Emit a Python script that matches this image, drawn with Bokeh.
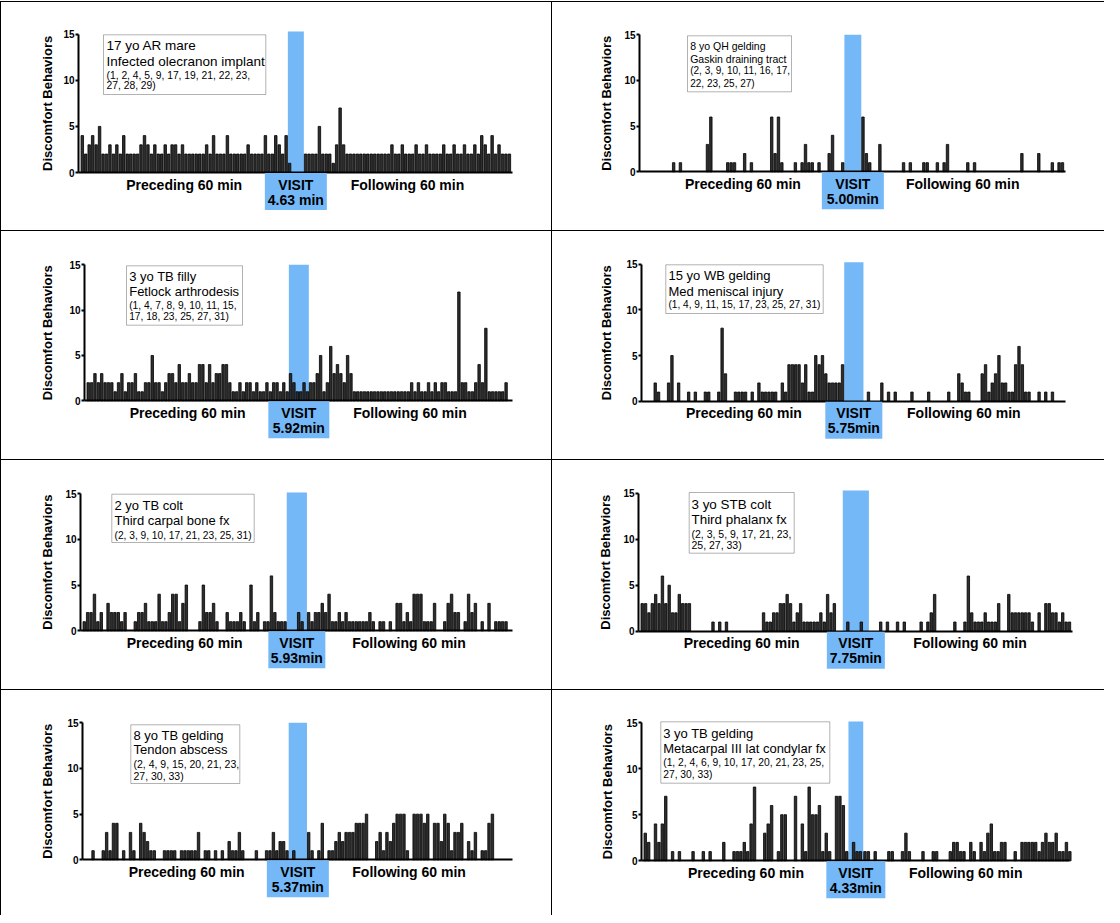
import math
from bokeh.plotting import figure
from bokeh.models import Range1d, FixedTicker, BoxAnnotation, Label, Div
from bokeh.layouts import column, row
from bokeh.embed import file_html
from bokeh.resources import INLINE

# ---------------- DATA ----------------
visit_min = [4.63, 5.00, 5.92, 5.75, 5.93, 7.75, 5.37, 4.33]
visit_txt = ["4.63 min", "5.00min", "5.92min", "5.75min", "5.93min", "7.75min", "5.37min", "4.33min"]

head1 = ["17 yo AR mare", "8 yo QH gelding", "3 yo TB filly", "15 yo WB gelding",
         "2 yo TB colt", "3 yo STB colt", "8 yo TB gelding", "3 yo TB gelding"]
head2 = ["Infected olecranon implant", "Gaskin draining tract", "Fetlock arthrodesis",
         "Med meniscal injury", "Third carpal bone fx", "Third phalanx fx",
         "Tendon abscess", "Metacarpal III lat condylar fx"]
refs = [["(1, 2, 4, 5, 9, 17, 19, 21, 22, 23,", "27, 28, 29)"],
        ["(2, 3, 9, 10, 11, 16, 17,", "22, 23, 25, 27)"],
        ["(1, 4, 7, 8, 9, 10, 11, 15,", "17, 18, 23, 25, 27, 31)"],
        ["(1, 4, 9, 11, 15, 17, 23, 25, 27, 31)"],
        ["(2, 3, 9, 10, 17, 21, 23, 25, 31)"],
        ["(2, 3, 5, 9, 17, 21, 23,", "25, 27, 33)"],
        ["(2, 4, 9, 15, 20, 21, 23,", "27, 30, 33)"],
        ["(1, 2, 4, 6, 9, 10, 17, 20, 21, 23, 25,", "27, 30, 33)"]]
y_title = "Discomfort Behaviors"
y_ticks = [0, 5, 10, 15]

pre_1 = [4,2,3,4,3,5,2,2,3,2, 3,2,4,2,2,2,2,3,4,3, 2,3,2,2,3,2,3,3,2,3,
         2,2,2,2,2,2,3,2,4,2, 2,2,4,2,2,2,2,2,3,2, 2,2,2,4,2,2,4,3,2,4]
dur_1 = [1]
post_1 = [2,2,2,2,5,2,2,2,1,3, 7,3,2,2,2,2,2,2,2,2, 2,2,2,2,2,3,2,2,3,2,
          2,2,3,2,2,3,2,2,2,2, 3,2,2,3,2,2,3,2,2,3, 2,4,3,2,4,2,3,2,2,2]

pre_2 = [0,0,0,0,0,0,0,0,0,1, 0,1,0,0,0,0,0,0,0,3, 6,0,0,0,0,1,1,1,0,0,
         2,0,1,0,0,0,0,0,6,2, 6,1,0,0,0,1,0,1,3,1, 1,0,1,0,0,2,4,0,0,1]
dur_2 = []
post_2 = [6,2,1,0,0,3,0,0,0,0, 0,0,1,0,1,0,0,0,1,1, 0,0,1,0,1,3,0,0,0,0,
          0,1,0,1,0,0,0,0,0,0, 0,0,0,0,0,0,0,2,0,0, 0,0,2,0,0,0,1,0,1,1]

pre_3 = [2,2,3,2,3,2,2,2,1,2, 3,1,2,2,3,1,1,2,2,5, 2,2,1,2,3,3,2,4,2,2,
         3,2,2,4,4,2,4,2,3,3, 4,4,2,1,1,2,1,2,2,1, 2,1,1,2,1,2,2,1,2,1]
dur_3 = [3,2,1,1,2,1]
post_3 = [2,2,3,5,1,2,6,3,4,3, 2,5,3,1,1,1,1,1,1,1, 1,1,1,1,1,1,1,1,1,1,
          2,1,2,1,1,2,1,2,1,2, 2,1,1,1,12,2,2,1,1,2, 4,2,8,1,1,1,1,1,2]

pre_4 = [0,0,0,2,1,0,0,2,5,0, 2,0,0,1,0,1,0,0,1,1, 0,0,1,8,3,0,0,1,1,1,
         1,0,1,0,2,1,1,1,1,1, 0,2,1,4,4,4,4,2,4,1, 1,5,4,5,3,2,2,2,2,4]
dur_4 = []
post_4 = [0,1,0,0,0,2,0,1,0,1, 0,0,0,0,1,0,0,0,0,1, 0,0,0,0,0,1,0,0,3,2,
          1,1,0,0,0,3,4,1,2,3, 5,2,2,1,1,4,6,4,1,1, 0,0,1,0,1,0,1,0,0,0]

pre_5 = [1,2,2,4,1,2,0,3,2,2, 2,1,2,0,0,1,2,2,3,1, 1,1,4,1,1,2,4,4,1,3,
         5,0,0,0,1,5,2,2,3,1, 0,0,2,1,1,1,2,1,0,5, 1,2,0,1,1,6,2,1,1,1]
dur_5 = [0,0,0,2,1,0]
post_5 = [2,1,2,2,3,2,4,1,1,2, 1,2,1,1,1,1,1,1,2,1, 0,1,1,0,1,0,3,3,1,2,
          1,4,4,4,1,1,1,3,0,0, 1,3,4,2,2,0,1,4,2,3, 0,1,0,3,0,1,1,1,1,0]

pre_6 = [3,3,2,3,4,3,6,3,5,2, 2,4,3,3,3,0,0,0,0,0, 0,1,0,1,0,1,0,0,0,0,
         0,0,0,0,0,0,2,1,1,2, 2,3,3,4,3,1,2,3,1,1, 1,1,1,2,1,4,2,3,0,0]
dur_6 = [0,1,0,0,0,1,0,0]
post_6 = [0,0,0,1,0,1,0,0,1,0, 1,0,0,0,0,1,0,1,2,4, 0,0,0,0,0,1,0,0,1,6,
          2,1,1,1,2,1,1,1,3,0, 0,4,2,2,2,2,2,2,1,0, 2,0,3,3,2,2,1,2,1,1]

pre_7 = [0,0,1,0,0,1,3,1,4,4, 0,1,0,3,1,0,4,3,2,1, 1,0,0,1,1,1,1,0,1,1,
         1,1,1,3,0,1,1,0,1,0, 1,0,2,1,1,3,1,0,0,0, 1,0,0,1,1,3,1,2,2,1]
dur_7 = [0,1,0,0,0,0]
post_7 = [3,1,0,1,4,0,1,1,2,3, 2,3,3,3,4,4,4,5,0,0, 2,3,1,3,2,4,5,5,5,1,
          0,5,5,5,4,5,0,4,4,2, 5,4,1,3,3,4,0,2,1,3, 0,1,1,4,5]

pre_8 = [3,2,0,4,2,4,7,0,1,0, 1,0,0,0,1,0,0,1,0,1, 0,0,0,2,0,0,1,1,1,2,
         1,4,8,0,0,3,4,6,0,1, 5,5,0,0,7,0,4,1,8,5, 5,6,1,3,1,0,7,7,6,1]
dur_8 = [0,2,1,1,0]
post_8 = [1,1,0,1,0,0,0,1,1,0, 0,1,3,1,0,0,0,1,0,0, 1,1,0,0,0,1,2,2,1,1,
          0,2,1,0,2,1,3,4,1,1, 2,2,0,0,1,0,2,2,2,2, 2,1,2,3,2,2,3,1,1,2,1]

pre_all = [pre_1, pre_2, pre_3, pre_4, pre_5, pre_6, pre_7, pre_8]
dur_all = [dur_1, dur_2, dur_3, dur_4, dur_5, dur_6, dur_7, dur_8]
post_all = [post_1, post_2, post_3, post_4, post_5, post_6, post_7, post_8]

# ---------------- LAYOUT / STYLE (page pixels) ----------------
FONT = "Liberation Sans"
BLUE = "#74B8F7"
CELL = [(9, 10, 550, 228), (560, 10, 552, 228), (9, 239, 550, 228), (560, 239, 552, 228),
        (9, 468, 550, 229), (560, 468, 552, 229), (9, 698, 550, 225), (560, 698, 552, 225)]
AXIS = [(86, 520, 180, 41.7), (647, 1073, 179.3, 42.3), (92, 520, 408.3, 272.3),
        (649, 1073, 408.7, 271.7), (88, 520, 638.3, 501), (646, 1080, 638.7, 500.7),
        (90, 520, 867.3, 730.3), (649, 1077, 868.3, 730)]
YLAB_X = [55, 614, 55, 614, 55, 613, 55, 615]
VISIT_TOP = [15.3, 15.0, 15.0, 15.2, 15.1, 15.3, 15.0, 15.1]
VBOX_W = [62, 62, 61, 57, 57, 58, 62, 59]
NBOX = [(111, 42.3, 273.3, 102), (695, 43.3, 799, 99.3), (134, 273.3, 250, 332.7),
        (673.3, 272.3, 830.7, 321), (119.3, 501.7, 261.7, 550), (696.7, 500, 801.7, 560.7),
        (138.3, 732.3, 247.3, 791), (668.3, 729.3, 837.3, 790.7)]
TEXT_X = [114, 697.7, 136.7, 676, 122, 699, 141, 670.7]
TEXT_Y = [[52.7, 69, 83.3, 93.3], [53.3, 66, 78.3, 91], [284.3, 299, 313.3, 324.3],
          [283.3, 299, 312.3], [513.3, 528.3, 542.7], [511.7, 526.7, 541, 552.7],
          [742.7, 757.3, 771.7, 783.3], [741, 755.7, 770, 782]]
HEAD_FS = [13.5, 10.5, 13, 13, 13, 13.4, 13, 13]
REF_FS = [10.3, 10, 10.2, 10.1, 10.2, 10.5, 10.5, 10.3]
PAD = 2


def make_panel(k):
    cx, cy, cw, ch = CELL[k]
    axx, aend, y0, y15 = AXIS[k]
    vw = visit_min[k]
    xa0, xa1 = -60.6, vw + 60.4          # axis extent in minutes
    frame_left, frame_right = cx + PAD, cx + cw - PAD
    frame_top, frame_bot = cy + PAD, cy + ch - PAD
    sx = (aend - axx) / (xa1 - xa0)
    x0 = xa0 - (axx - frame_left) / sx
    x1 = xa1 + (frame_right - aend) / sx
    uy = (y0 - y15) / 15.0
    y_end = (y0 - frame_top) / uy
    y_start = -(frame_bot - y0) / uy

    def X(px):
        return x0 + (px - frame_left) / sx

    def Y(py):
        return (y0 - py) / uy

    p = figure(width=cw, height=ch, x_range=Range1d(x0, x1), y_range=Range1d(y_start, y_end),
               toolbar_location=None, output_backend="svg",
               min_border_left=PAD, min_border_right=PAD, min_border_top=PAD, min_border_bottom=PAD,
               title=None, background_fill_color="white", border_fill_color="white")
    p.outline_line_color = None
    p.xgrid.visible = False
    p.ygrid.visible = False

    ya = p.yaxis[0]
    ya.fixed_location = xa0
    ya.ticker = FixedTicker(ticks=y_ticks)
    ya.bounds = (0, 15)
    ya.major_label_text_font = FONT
    ya.major_label_text_font_size = "10px"
    ya.major_label_text_font_style = "bold"
    ya.major_label_text_color = "black"
    ya.major_label_standoff = 1
    ya.major_tick_out = 3
    ya.major_tick_in = 0
    ya.minor_tick_out = 0
    ya.minor_tick_in = 0
    ya.axis_line_width = 2
    ya.major_tick_line_width = 2

    xa = p.xaxis[0]
    xa.fixed_location = 0
    xa.bounds = (xa0, xa1)
    xa.ticker = FixedTicker(ticks=[])
    xa.major_tick_out = 0
    xa.major_tick_in = 0
    xa.minor_tick_out = 0
    xa.minor_tick_in = 0
    xa.major_label_text_font_size = "0px"
    xa.axis_line_width = 2

    # y title, centred on the 0-15 axis
    p.add_layout(Label(x=X(YLAB_X[k]), y=7.5, text=y_title, angle=math.pi / 2,
                       text_font=FONT, text_font_size="13px", text_font_style="bold",
                       text_align="center", text_baseline="middle", text_color="black"))

    # visit bar
    p.quad(left=[0], right=[vw], bottom=[0], top=[VISIT_TOP[k]], fill_color=BLUE, line_color=None)

    # behaviour bars
    pre, dur, post = pre_all[k], dur_all[k], post_all[k]
    xs, ys = [], []
    for i, v in enumerate(pre):
        if v:
            xs.append(-len(pre) + i + 0.5); ys.append(v)
    for j, v in enumerate(dur):
        if v:
            xs.append(j + 0.5); ys.append(v)
    for m, v in enumerate(post):
        if v:
            xs.append(vw + m + 0.5); ys.append(v)
    p.vbar(x=xs, top=ys, bottom=0, width=0.72, fill_color="#2e2e2e", line_color="black", line_width=0.8)

    # info box
    bl, bt, br, bb = NBOX[k]
    p.add_layout(BoxAnnotation(left=X(bl), right=X(br), top=Y(bt), bottom=Y(bb),
                               fill_color="white", fill_alpha=1, line_color="black", line_width=1))
    lines = [(head1[k], HEAD_FS[k]), (head2[k], HEAD_FS[k])] + [(r, REF_FS[k]) for r in refs[k]]
    for (txt, fs), ty in zip(lines, TEXT_Y[k]):
        p.add_layout(Label(x=X(TEXT_X[k]), y=Y(ty), text=txt, text_font=FONT,
                           text_font_size=f"{fs}px", text_baseline="middle", text_align="left",
                           text_color="black"))

    # visit label box
    hw = VBOX_W[k] / 2.0 / sx
    p.add_layout(BoxAnnotation(left=vw / 2 - hw, right=vw / 2 + hw, top=Y(y0 + 0.5), bottom=Y(y0 + 37.5),
                               fill_color=BLUE, fill_alpha=1, line_color=None))
    for txt, xx, dy in [("Preceding 60 min", -30, 12), ("Following 60 min", vw + 30, 12),
                        ("VISIT", vw / 2, 12), (visit_txt[k], vw / 2, 27)]:
        p.add_layout(Label(x=xx, y=Y(y0 + dy), text=txt, text_font=FONT, text_font_size="14px",
                           text_font_style="bold", text_baseline="middle", text_align="center",
                           text_color="black"))
    return p


figs = [make_panel(k) for k in range(8)]


def hline(color="black"):
    return Div(text="", width=1104, height=1, margin=0, styles={"background-color": color})


def vline(h):
    return Div(text="", width=1, height=h, margin=0, styles={"background-color": "black"})


items = [hline("white"), hline()]
row_h = [228, 228, 229, 225]
for r in range(4):
    items.append(row(vline(row_h[r]), figs[2 * r], vline(row_h[r]), figs[2 * r + 1], margin=0))
    if r < 3:
        items.append(hline())
layout = column(*items, margin=0)

open("out.html", "w").write(file_html(layout, INLINE))
